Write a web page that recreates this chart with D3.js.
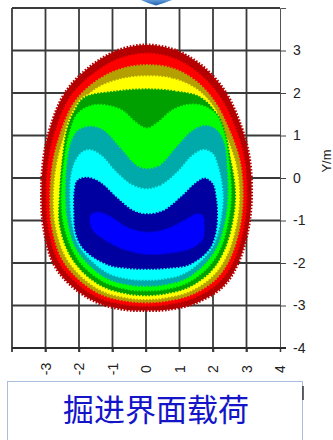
<!DOCTYPE html>
<html>
<head>
<meta charset="utf-8">
<script src="https://cdn.jsdelivr.net/npm/d3@7"></script>
<style>
  html, body { margin: 0; padding: 0; background: #fff; }
  svg { display: block; }
</style>
</head>
<body>
<script>
// level boundaries, data units (x in m, y in m)
var edge0 = [[0.02,3.13],[0.9,3.0],[1.7,2.62],[2.35,2.05],[2.8,1.3],[3.08,0.5],[3.15,-0.4],[3.05,-1.2],[2.75,-2.0],[2.3,-2.55],[1.45,-2.95],[0.6,-3.1],[0.0,-3.12],[-0.6,-3.1],[-1.45,-2.93],[-2.25,-2.52],[-2.77,-2.0],[-3.05,-1.2],[-3.12,-0.4],[-3.05,0.5],[-2.85,1.2],[-2.42,2.0],[-1.7,2.6],[-0.85,3.0]];
var edge1 = [[0.02,2.95],[0.85,2.83],[1.6,2.47],[2.22,1.93],[2.67,1.22],[2.96,0.45],[3.03,-0.4],[2.94,-1.17],[2.65,-1.93],[2.2,-2.46],[1.4,-2.85],[0.58,-3.0],[0.0,-3.03],[-0.58,-3.0],[-1.4,-2.84],[-2.16,-2.43],[-2.66,-1.93],[-2.94,-1.17],[-3.0,-0.4],[-2.93,0.45],[-2.72,1.13],[-2.3,1.9],[-1.6,2.46],[-0.8,2.83]];
var edge2 = [[0.02,2.68],[0.8,2.6],[1.5,2.3],[2.08,1.8],[2.52,1.12],[2.83,0.4],[2.92,-0.4],[2.83,-1.14],[2.55,-1.87],[2.12,-2.38],[1.35,-2.77],[0.55,-2.92],[0.0,-2.95],[-0.55,-2.92],[-1.35,-2.76],[-2.08,-2.36],[-2.56,-1.87],[-2.84,-1.14],[-2.89,-0.4],[-2.8,0.4],[-2.58,1.05],[-2.17,1.78],[-1.5,2.3],[-0.75,2.59]];
var edge3 = [[0.02,2.42],[0.8,2.36],[1.5,2.12],[2.02,1.7],[2.4,1.02],[2.7,0.35],[2.81,-0.4],[2.72,-1.1],[2.45,-1.8],[2.03,-2.3],[1.3,-2.69],[0.53,-2.84],[0.0,-2.87],[-0.53,-2.84],[-1.3,-2.68],[-2.0,-2.29],[-2.46,-1.8],[-2.73,-1.1],[-2.78,-0.4],[-2.68,0.35],[-2.46,0.98],[-2.08,1.66],[-1.5,2.12],[-0.75,2.35]];
var edge4 = [[0.02,2.11],[0.9,2.06],[1.6,1.93],[2.05,1.6],[2.3,1.1],[2.58,0.3],[2.69,-0.4],[2.6,-1.06],[2.35,-1.72],[1.94,-2.22],[1.25,-2.6],[0.5,-2.75],[0.0,-2.78],[-0.5,-2.75],[-1.25,-2.59],[-1.92,-2.21],[-2.36,-1.72],[-2.61,-1.06],[-2.6,-0.4],[-2.52,0.4],[-2.38,1.15],[-2.15,1.6],[-1.85,1.91],[-0.9,2.06]];
var edge5 = [[0.02,1.19],[0.35,1.33],[0.75,1.6],[1.2,1.74],[1.65,1.73],[2.1,1.52],[2.38,1.0],[2.5,0.4],[2.57,-0.4],[2.48,-1.02],[2.25,-1.65],[1.85,-2.13],[1.2,-2.5],[0.48,-2.65],[0.0,-2.67],[-0.48,-2.65],[-1.2,-2.49],[-1.85,-2.12],[-2.25,-1.65],[-2.5,-1.02],[-2.55,-0.4],[-2.47,0.4],[-2.33,1.0],[-2.07,1.52],[-1.6,1.73],[-1.1,1.72],[-0.68,1.6],[-0.3,1.33]];
var edge6 = [[0.02,0.23],[0.4,0.31],[0.9,0.74],[1.4,1.14],[1.81,1.25],[2.15,1.12],[2.36,0.8],[2.44,0.2],[2.46,-0.4],[2.38,-1.0],[2.15,-1.6],[1.75,-2.05],[1.15,-2.4],[0.45,-2.54],[0.0,-2.56],[-0.45,-2.54],[-1.15,-2.39],[-1.75,-2.03],[-2.15,-1.6],[-2.36,-1.0],[-2.42,-0.4],[-2.38,0.3],[-2.24,0.88],[-2.02,1.14],[-1.67,1.23],[-1.27,1.14],[-0.78,0.74],[-0.28,0.31]];
var edge7 = [[0.02,-0.24],[0.42,-0.16],[0.92,0.15],[1.37,0.54],[1.71,0.68],[2.01,0.58],[2.17,0.28],[2.28,-0.1],[2.32,-0.5],[2.25,-1.0],[2.05,-1.55],[1.65,-1.97],[1.1,-2.28],[0.45,-2.4],[0.0,-2.42],[-0.45,-2.4],[-1.1,-2.27],[-1.65,-1.95],[-2.05,-1.55],[-2.24,-1.0],[-2.29,-0.4],[-2.26,0.05],[-2.12,0.42],[-1.92,0.62],[-1.67,0.68],[-1.32,0.54],[-0.87,0.15],[-0.38,-0.16]];
var edge8 = [[0.02,-0.83],[0.52,-0.75],[1.02,-0.44],[1.51,-0.08],[1.76,0.01],[2.01,-0.13],[2.11,-0.44],[2.15,-0.8],[2.1,-1.3],[1.9,-1.69],[1.31,-2.05],[0.6,-2.14],[0.02,-2.16],[-0.55,-2.14],[-1.17,-2.05],[-1.87,-1.69],[-2.12,-1.3],[-2.17,-0.8],[-2.16,-0.3],[-2.07,-0.05],[-1.77,0.03],[-1.37,-0.08],[-0.87,-0.44],[-0.38,-0.75]];
var edge9 = [[0.02,-1.26],[0.62,-1.18],[1.12,-0.99],[1.51,-0.83],[1.71,-0.87],[1.76,-1.14],[1.71,-1.45],[1.41,-1.65],[0.82,-1.77],[0.02,-1.81],[-0.68,-1.69],[-1.27,-1.45],[-1.62,-1.22],[-1.67,-0.87],[-1.42,-0.79],[-1.02,-0.91],[-0.57,-1.14]];

var bandEdges = [edge0, edge1, edge2, edge3, edge4, edge5, edge6, edge7, edge8, edge9];
var bandColors = ['#b40000', '#ff0000', '#b4a000', '#ffff00', '#00a000', '#00ff00', '#00aaaa', '#00ffff', '#0000a0', '#0000ff'];

var xTicks = [-3, -2, -1, 0, 1, 2, 3, 4];
var yTicks = [3, 2, 1, 0, -1, -2, -3, -4];
var gridX = [-4, -3, -2, -1, 0, 1, 2, 3];
var gridY = [4, 3, 2, 1, 0, -1, -2, -3, -4];
var yTitle = 'Y/m';
var boxTitle = '掘进界面载荷';

var svg = d3.select('body')
  .append('svg')
  .attr('width', 333)
  .attr('height', 440);

var x = d3.scaleLinear().domain([-4, 4]).range([12, 280]);
var y = d3.scaleLinear().domain([-4, 4]).range([348, 8]);

// bit of the picture above, cut off by the frame
var grad = svg.append('defs').append('linearGradient')
  .attr('id', 'topGrad').attr('x1', 0).attr('y1', 0).attr('x2', 0).attr('y2', 1);
grad.append('stop').attr('offset', '0%').attr('stop-color', '#5f9ad8');
grad.append('stop').attr('offset', '100%').attr('stop-color', '#1f5fae');
svg.append('path')
  .attr('d', 'M141,0 L172,0 L164,3 L156,5.5 L148,3 Z')
  .attr('fill', 'url(#topGrad)');

// grid
var grid = svg.append('g').attr('class', 'grid');
grid.selectAll('line.v')
  .data(gridX)
  .enter().append('line')
  .attr('class', 'v')
  .attr('x1', function(d) { return x(d); })
  .attr('x2', function(d) { return x(d); })
  .attr('y1', y(4))
  .attr('y2', y(-4) + 4)
  .attr('stroke', '#3a3a3a')
  .attr('stroke-width', 1.8);
grid.selectAll('line.h')
  .data(gridY)
  .enter().append('line')
  .attr('class', 'h')
  .attr('x1', x(-4))
  .attr('x2', x(4))
  .attr('y1', function(d) { return y(d); })
  .attr('y2', function(d) { return y(d); })
  .attr('stroke', '#3a3a3a')
  .attr('stroke-width', 1.8);

// contour bands, outside in
var line = d3.line()
  .x(function(d) { return x(d[0]); })
  .y(function(d) { return y(d[1]); })
  .curve(d3.curveCatmullRomClosed.alpha(0.5));

var bands = svg.append('g').attr('class', 'bands');
bandEdges.forEach(function(pts, i) {
  bands.append('path')
    .attr('d', line(pts))
    .attr('fill', bandColors[i])
    .attr('stroke', i === 0 ? bandColors[0] : bandColors[i - 1])
    .attr('stroke-width', i === 0 ? 3 : 2)
    .attr('stroke-dasharray', '1.6 1.6');
});

// right axis
var yAxis = d3.axisRight(y)
  .tickValues(yTicks)
  .tickSize(6)
  .tickPadding(7)
  .tickFormat(function(d) { return d; });
var yG = svg.append('g')
  .attr('transform', 'translate(' + x(4) + ',0)')
  .call(yAxis);
yG.select('.domain').attr('stroke', '#555').attr('stroke-width', 1);
yG.selectAll('.tick line').attr('stroke', '#444').attr('stroke-width', 1);
yG.selectAll('.tick text')
  .attr('fill', '#222')
  .style('font-family', '"Liberation Sans Narrow", "Liberation Sans", Arial, sans-serif')
  .style('font-size', '14px');

// bottom axis
var xAxis = d3.axisBottom(x)
  .tickValues(xTicks)
  .tickSize(4)
  .tickFormat(function(d) { return d; });
var xG = svg.append('g')
  .attr('transform', 'translate(0,' + y(-4) + ')')
  .call(xAxis);
xG.select('.domain').remove();
xG.selectAll('.tick line').attr('stroke', '#3a3a3a').attr('stroke-width', 1.5);
xG.selectAll('.tick text')
  .attr('fill', '#222')
  .attr('y', 0)
  .attr('dy', '0.35em')
  .attr('transform', 'translate(0,21) rotate(-90)')
  .style('text-anchor', 'middle')
  .style('font-family', '"Liberation Sans Narrow", "Liberation Sans", Arial, sans-serif')
  .style('font-size', '14px');
svg.append('line')
  .attr('x1', x(-4)).attr('x2', x(4) + 6)
  .attr('y1', y(-4)).attr('y2', y(-4))
  .attr('stroke', '#2a2a2a').attr('stroke-width', 2);

svg.append('text')
  .attr('transform', 'translate(331,' + 161 + ') rotate(-90)')
  .attr('text-anchor', 'middle')
  .attr('fill', '#222')
  .style('font-family', '"Liberation Sans", Arial, sans-serif')
  .style('font-size', '13px')
  .text(yTitle);

// caption box
svg.append('rect')
  .attr('x', 7.5).attr('y', 381.5)
  .attr('width', 295).attr('height', 70)
  .attr('fill', '#fff')
  .attr('stroke', '#a9bedc')
  .attr('stroke-width', 1);
svg.append('line')
  .attr('x1', 303).attr('x2', 303)
  .attr('y1', 386).attr('y2', 400)
  .attr('stroke', '#333').attr('stroke-width', 1.5);
svg.append('text')
  .attr('x', 156)
  .attr('y', 421)
  .attr('text-anchor', 'middle')
  .attr('fill', '#1414c8')
  .style('font-family', '"Noto Sans CJK SC", sans-serif')
  .style('font-size', '31px')
  .text(boxTitle);
</script>
</body>
</html>
